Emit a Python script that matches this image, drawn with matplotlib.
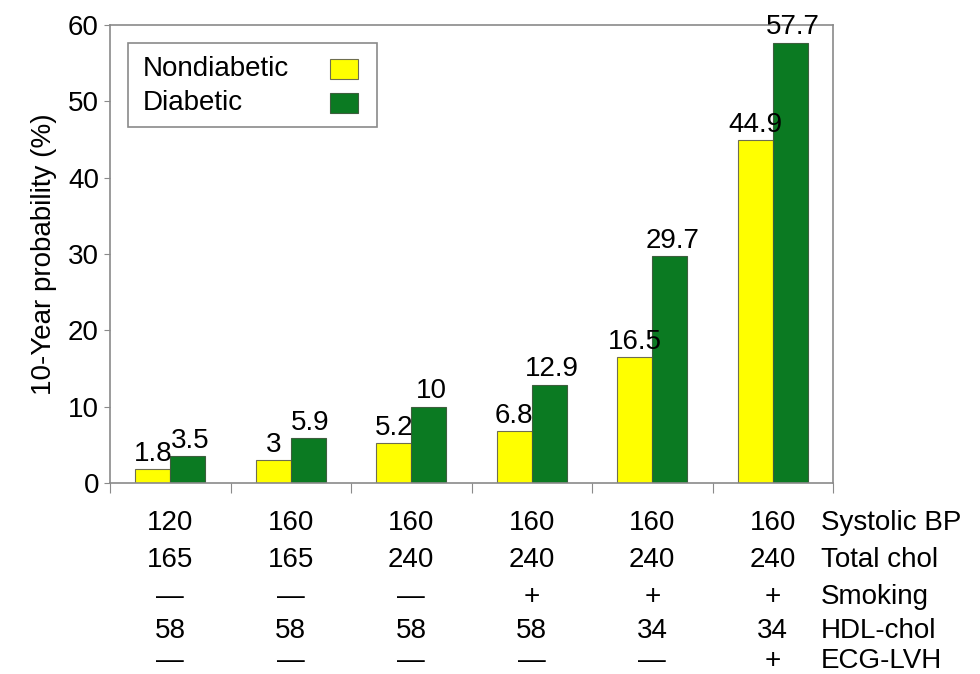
import numpy as np
import matplotlib
matplotlib.use("Agg")
import matplotlib.pyplot as plt
from matplotlib.patches import Rectangle
from matplotlib.transforms import blended_transform_factory

plt.rcParams["font.family"] = ["Liberation Sans", "DejaVu Sans"]

nondiabetic = [1.8, 3, 5.2, 6.8, 16.5, 44.9]
diabetic = [3.5, 5.9, 10, 12.9, 29.7, 57.7]
series_names = ["Nondiabetic", "Diabetic"]

row_names = ["Systolic BP", "Total chol", "Smoking", "HDL-chol", "ECG-LVH"]
row_values = [
    ["120", "160", "160", "160", "160", "160"],
    ["165", "165", "240", "240", "240", "240"],
    ["\u2014", "\u2014", "\u2014", "+", "+", "+"],
    ["58", "58", "58", "58", "34", "34"],
    ["\u2014", "\u2014", "\u2014", "\u2014", "\u2014", "+"],
]

yellow = "#FFFF00"
green = "#0B7A22"
edge_y = "#6E6E50"
edge_g = "#3E5E3E"
axis_gray = "#8A8A8A"
FS = 20

fig = plt.figure(figsize=(9.8, 6.74), dpi=100)
AX_L, AX_R, AX_T, AX_B = 110, 833, 25, 483  # pixel box of the plot area
ax = fig.add_axes([AX_L / 980, 1 - AX_B / 674, (AX_R - AX_L) / 980, (AX_B - AX_T) / 674])
axw, axh = AX_R - AX_L, AX_B - AX_T

n = len(nondiabetic)
centers = np.arange(n) + 0.5
w = 0.29
ax.bar(centers - w / 2, nondiabetic, w, color=yellow, edgecolor=edge_y, linewidth=0.8)
ax.bar(centers + w / 2, diabetic, w, color=green, edgecolor=edge_g, linewidth=0.8)

for x, v in zip(centers - w / 2, nondiabetic):
    ax.text(x, v + 0.3, f"{v:g}", ha="center", va="bottom", fontsize=FS, clip_on=False)
for x, v in zip(centers + w / 2, diabetic):
    ax.text(x + 0.02, v + 0.3, f"{v:g}", ha="center", va="bottom", fontsize=FS, clip_on=False)

ax.set_xlim(0, n)
ax.set_ylim(0, 60)
ax.set_yticks(range(0, 61, 10))
ax.set_xticks(np.arange(n + 1))
ax.set_xticklabels([])
ax.tick_params(axis="y", labelsize=FS, length=4, color=axis_gray, pad=4)
ax.tick_params(axis="x", length=7, color=axis_gray, direction="out")
for s in ax.spines.values():
    s.set_color(axis_gray)
    s.set_linewidth(1.2)
ax.set_ylabel("10-Year probability (%)", fontsize=FS, labelpad=8)

# table under the bars
trans = blended_transform_factory(ax.transData, fig.transFigure)
row_y = [523, 560, 597, 631, 661]
for yy, name, vals in zip(row_y, row_names, row_values):
    yf = 1 - yy / 674
    for c, v in zip(centers, vals):
        ax.text(c, yf, v, transform=trans, ha="center", va="center", fontsize=FS, clip_on=False)
    ax.text(5.9, yf, name, transform=trans, ha="left", va="center", fontsize=FS, clip_on=False)

# legend: labels left, swatches right (drawn in axes fraction coords)
lx0, lx1 = (128 - AX_L) / axw, (377 - AX_L) / axw
ly0, ly1 = (AX_B - 127) / axh, (AX_B - 43) / axh
ax.add_patch(Rectangle((lx0, ly0), lx1 - lx0, ly1 - ly0, transform=ax.transAxes,
                       facecolor="white", edgecolor=axis_gray, linewidth=1.2, zorder=5))
for name, col, ec, py in zip(series_names, [yellow, green], [edge_y, edge_g], [69, 103]):
    yc = (AX_B - py) / axh
    ax.text((143 - AX_L) / axw, yc, name, transform=ax.transAxes, ha="left", va="center",
            fontsize=FS, zorder=6)
    ax.add_patch(Rectangle(((330 - AX_L) / axw, yc - 10 / axh), 28 / axw, 20 / axh,
                           transform=ax.transAxes, facecolor=col, edgecolor=ec,
                           linewidth=0.8, zorder=6))

fig.savefig("out.png", dpi=100)
